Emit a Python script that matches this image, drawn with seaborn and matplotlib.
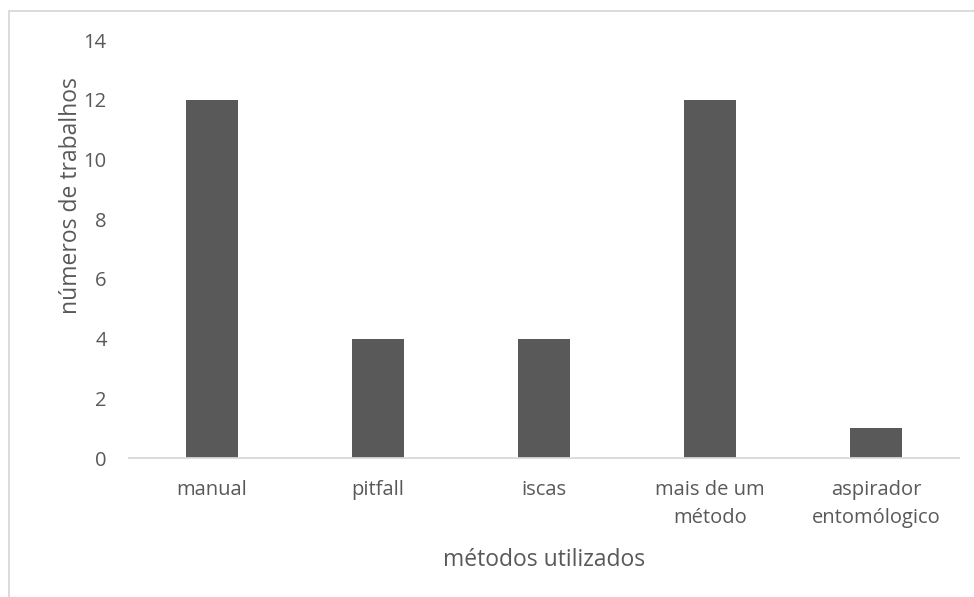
import matplotlib
matplotlib.use("Agg")
import matplotlib.pyplot as plt
from matplotlib.lines import Line2D
import seaborn as sns
import pandas as pd

categories = ["manual", "pitfall", "iscas", "mais de um\nmétodo", "aspirador\nentomólogico"]
counts = [12, 4, 4, 12, 1]
y_ticks = [0, 2, 4, 6, 8, 10, 12, 14]

TEXT = "#595959"
BAR = "#595959"
AXIS = "#d9d9d9"

sns.set_theme(style="white")
plt.rcParams["font.family"] = ["Open Sans", "DejaVu Sans"]

df = pd.DataFrame({"metodo": categories, "n": counts})

fig = plt.figure(figsize=(9.74, 5.97), dpi=100)
ax = fig.add_axes([129 / 974, 1 - 458 / 597, (959 - 129) / 974, (458 - 40) / 597])

sns.barplot(data=df, x="metodo", y="n", color=BAR, width=0.31, saturation=1,
            edgecolor="none", ax=ax)

ax.set_xlim(-0.5, len(categories) - 0.5)
ax.set_ylim(0, 14)
ax.set_yticks(y_ticks)
ax.set_yticklabels([str(v) for v in y_ticks], fontsize=14.5, color=TEXT)
ax.tick_params(axis="y", length=0, pad=16)
ax.tick_params(axis="x", which="major", length=0, pad=16, labelsize=14.5, labelcolor=TEXT)
ax.set_xticks(range(len(categories)))
ax.set_xticklabels(categories, linespacing=1.5)
ax.set_xticks([i - 0.5 for i in range(len(categories) + 1)], minor=True)
ax.tick_params(axis="x", which="minor", length=6, width=1.3, color=AXIS, direction="out")

for side in ("left", "top", "right"):
    ax.spines[side].set_visible(False)
ax.spines["bottom"].set_color(AXIS)
ax.spines["bottom"].set_linewidth(1.3)

ax.set_xlabel("")
ax.set_ylabel("")
fig.text(544 / 974, 1 - 560 / 597, "métodos utilizados", ha="center", va="center",
         fontsize=16.5, color=TEXT)
fig.text(71 / 974, 1 - 196 / 597, "números de trabalhos", ha="center", va="center",
         rotation=90, fontsize=16.5, color=TEXT)

# chart area frame (top and left edges)
fig.add_artist(Line2D([8.5 / 974, 8.5 / 974], [0, 1 - 10.5 / 597], transform=fig.transFigure,
                      color=AXIS, linewidth=1.3))
fig.add_artist(Line2D([8.5 / 974, 1], [1 - 10.5 / 597, 1 - 10.5 / 597], transform=fig.transFigure,
                      color=AXIS, linewidth=1.3))

fig.savefig("out.png", dpi=100)
